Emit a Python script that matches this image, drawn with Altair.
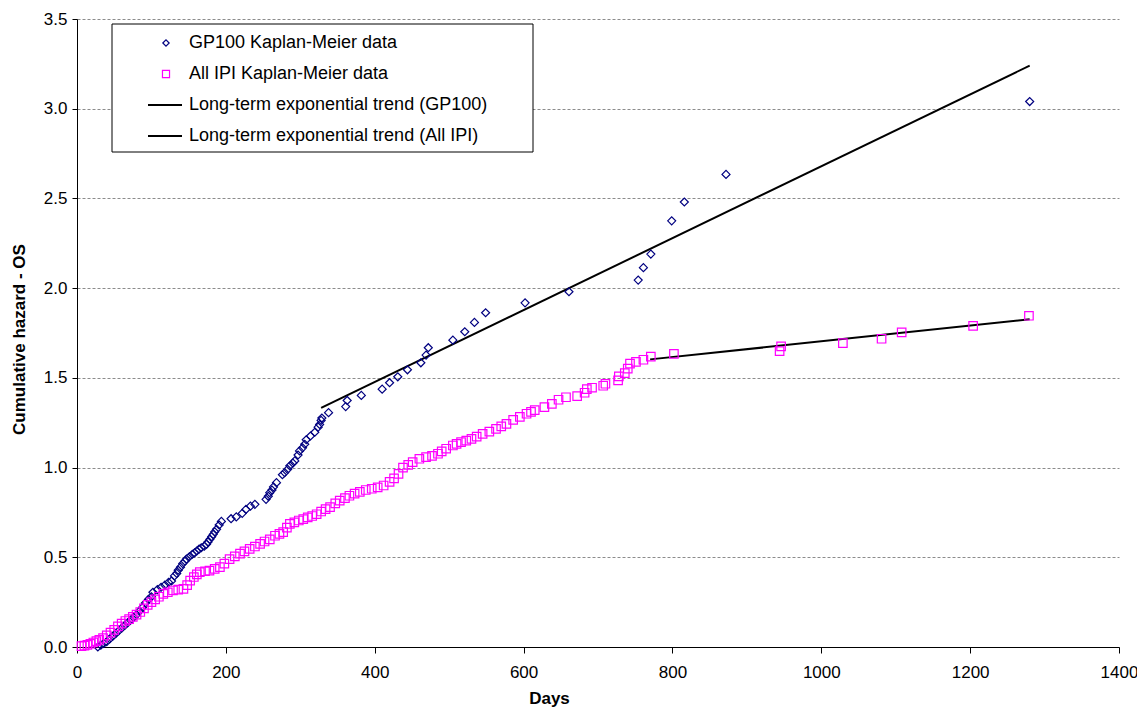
import altair as alt
import pandas as pd

# ---- GP100 Kaplan-Meier cumulative hazard (days, value)
gp_days = [28, 32, 36, 40, 44, 48, 52, 56, 60, 64, 68, 72, 76, 80, 84, 88, 92, 96, 100,
           102, 108, 113, 118, 123, 127, 131, 134, 136, 139, 142, 145, 147, 151, 155, 158,
           161, 164, 167, 171, 174, 176, 178.5, 181, 183, 185, 187.5, 191, 194, 207, 214,
           222, 227, 233, 239, 254, 257, 259, 262, 264, 268, 276, 279, 283, 286, 290, 292.6,
           297, 299, 303, 306, 308, 313.7, 319.5, 324, 326, 328, 329, 338, 361, 363, 382,
           410, 420, 431, 444, 462, 469, 472, 505, 521, 534, 549, 602, 661, 754, 761, 771,
           799, 816, 872, 1280]
gp_vals = [0.0, 0.01, 0.02, 0.03, 0.045, 0.06, 0.075, 0.09, 0.105, 0.12, 0.135, 0.15, 0.165,
           0.18, 0.2, 0.22, 0.245, 0.265, 0.28, 0.305, 0.32, 0.333, 0.345, 0.36, 0.368, 0.396,
           0.41, 0.428, 0.445, 0.465, 0.478, 0.49, 0.503, 0.517, 0.525, 0.535, 0.545, 0.553,
           0.562, 0.572, 0.585, 0.6, 0.615, 0.628, 0.642, 0.656, 0.68, 0.70, 0.715, 0.725,
           0.745, 0.767, 0.785, 0.795, 0.823, 0.84, 0.86, 0.875, 0.892, 0.916, 0.96, 0.972,
           0.99, 1.01, 1.025, 1.037, 1.07, 1.093, 1.11, 1.13, 1.155, 1.176, 1.197, 1.225,
           1.24, 1.263, 1.276, 1.306, 1.34, 1.374, 1.402, 1.437, 1.473, 1.506, 1.545, 1.584,
           1.627, 1.668, 1.71, 1.757, 1.809, 1.863, 1.918, 1.98, 2.045, 2.114, 2.19, 2.375,
           2.48, 2.634, 3.04]

# ---- All IPI Kaplan-Meier cumulative hazard (days, value)
ipi_days = [6, 10, 14, 18, 22, 26, 30, 35, 40, 45, 50, 55, 60, 65, 70, 75, 80, 85, 90, 95,
            100, 105, 110, 116, 122, 129, 136, 143, 148, 152, 157, 161, 165, 172, 178, 185,
            192, 198, 205, 212, 219, 225, 232, 239, 246, 252, 259, 266, 272, 277, 282, 286,
            292, 298, 304, 310, 316, 322, 328, 334, 340, 347, 353, 360, 366, 373, 380, 388,
            396, 404, 412, 420, 426, 432, 438, 445, 451, 460, 469, 477, 485, 490, 496, 505,
            510, 516, 523, 530, 537, 545, 554, 563, 570, 577, 586, 595, 604, 610, 615, 628,
            638, 647, 657, 672, 682, 685, 692, 707, 710, 727, 728, 736, 740, 743, 751, 761,
            771, 802, 944, 946, 1029, 1081, 1108, 1204, 1279]
ipi_vals = [0.005, 0.008, 0.012, 0.018, 0.025, 0.033, 0.04, 0.05, 0.065, 0.08, 0.095, 0.115,
            0.13, 0.145, 0.155, 0.168, 0.18, 0.195, 0.215, 0.235, 0.25, 0.265, 0.28, 0.296,
            0.305, 0.315, 0.32, 0.324, 0.345, 0.37, 0.39, 0.405, 0.417, 0.422, 0.426, 0.435,
            0.445, 0.465, 0.49, 0.505, 0.52, 0.533, 0.547, 0.56, 0.575, 0.588, 0.6, 0.62,
            0.63, 0.64, 0.665, 0.686, 0.695, 0.705, 0.713, 0.722, 0.73, 0.74, 0.755, 0.768,
            0.78, 0.8, 0.816, 0.83, 0.843, 0.855, 0.865, 0.875, 0.882, 0.89, 0.9, 0.92, 0.94,
            0.965, 1.0, 1.015, 1.03, 1.049, 1.058, 1.065, 1.077, 1.09, 1.105, 1.123, 1.132,
            1.142, 1.15, 1.16, 1.172, 1.188, 1.2, 1.216, 1.23, 1.244, 1.266, 1.283, 1.3, 1.31,
            1.32, 1.337, 1.355, 1.378, 1.392, 1.398, 1.417, 1.437, 1.445, 1.456, 1.467, 1.486,
            1.508, 1.526, 1.551, 1.579, 1.589, 1.601, 1.618, 1.634, 1.649, 1.675, 1.694,
            1.718, 1.753, 1.79, 1.846]

# ---- Long-term exponential trends (start/end points)
trend_gp_days = [328, 1280]
trend_gp_vals = [1.333, 3.24]
trend_ipi_days = [770, 1280]
trend_ipi_vals = [1.603, 1.826]

legend_labels = ["GP100 Kaplan-Meier data", "All IPI Kaplan-Meier data",
                 "Long-term exponential trend (GP100)", "Long-term exponential trend (All IPI)"]

NAVY = "#000080"
MAGENTA = "#FF00FF"
FONT = "Liberation Sans"

gp_df = pd.DataFrame({"days": gp_days, "val": gp_vals})
ipi_df = pd.DataFrame({"days": ipi_days, "val": ipi_vals})
trend_df = pd.DataFrame({
    "days": trend_gp_days + trend_ipi_days,
    "val": trend_gp_vals + trend_ipi_vals,
    "series": ["GP100"] * 2 + ["All IPI"] * 2,
})

W, H = 1042, 628

x_scale = alt.Scale(domain=[0, 1400], nice=False, zero=True)
y_scale = alt.Scale(domain=[0, 3.5], nice=False)

x_axis = alt.Axis(values=[0, 200, 400, 600, 800, 1000, 1200, 1400], format="d", grid=False,
                  title="Days", titleFontWeight="bold", titleFontSize=17, titleFont=FONT,
                  titleX=472, titleY=51, titleBaseline="middle",
                  labelFont=FONT, labelFontSize=17, labelColor="black", labelPadding=11,
                  tickSize=6, tickColor="black", domainColor="black", labelFlush=False)
y_axis = alt.Axis(values=[0, 0.5, 1, 1.5, 2, 2.5, 3, 3.5], format=".1f", grid=True,
                  gridDash=[3, 2], gridColor="#8c8c8c", gridWidth=1,
                  title="Cumulative hazard - OS", titleFontWeight="bold", titleFontSize=17,
                  titleFont=FONT, titleX=-58, titleY=320, titleBaseline="middle",
                  titleAngle=270,
                  labelFont=FONT, labelFontSize=17, labelColor="black", labelPadding=5,
                  tickSize=5, tickColor="black", domainColor="black", labelFlush=False)

gp_layer = alt.Chart(gp_df).mark_point(shape="diamond", filled=False, color=NAVY, size=64,
                                       strokeWidth=1.2, opacity=1).encode(
    x=alt.X("days:Q", scale=x_scale, axis=x_axis),
    y=alt.Y("val:Q", scale=y_scale, axis=y_axis),
)
ipi_layer = alt.Chart(ipi_df).mark_point(shape="square", filled=False, color=MAGENTA, size=72,
                                         strokeWidth=1.2, opacity=1).encode(
    x=alt.X("days:Q", scale=x_scale),
    y=alt.Y("val:Q", scale=y_scale),
)
trend_layer = alt.Chart(trend_df).mark_line(color="black", strokeWidth=2).encode(
    x=alt.X("days:Q", scale=x_scale),
    y=alt.Y("val:Q", scale=y_scale),
    detail="series:N",
)

# ---- manual legend (box, symbols, labels)
one = pd.DataFrame({"k": [0]})
row_y = [24, 55, 86, 117]
box = alt.Chart(one).mark_rect(fill="white", stroke="black", strokeWidth=1).encode(
    x=alt.value(35), x2=alt.value(456), y=alt.value(5), y2=alt.value(133))
leg_gp = alt.Chart(one).mark_point(shape="diamond", filled=False, color=NAVY, size=40,
                                   strokeWidth=1.2, opacity=1).encode(
    x=alt.value(89), y=alt.value(row_y[0]))
leg_ipi = alt.Chart(one).mark_point(shape="square", filled=False, color=MAGENTA, size=50,
                                    strokeWidth=1.2, opacity=1).encode(
    x=alt.value(89), y=alt.value(row_y[1]))
leg_l1 = alt.Chart(one).mark_rule(color="black", strokeWidth=2).encode(
    x=alt.value(71), x2=alt.value(105), y=alt.value(row_y[2]))
leg_l2 = alt.Chart(one).mark_rule(color="black", strokeWidth=2).encode(
    x=alt.value(71), x2=alt.value(105), y=alt.value(row_y[3]))
leg_texts = [
    alt.Chart(one).mark_text(align="left", baseline="middle", font=FONT, fontSize=18,
                             color="black").encode(
        x=alt.value(112), y=alt.value(row_y[i]), text=alt.value(legend_labels[i]))
    for i in range(4)
]

chart = alt.layer(trend_layer, gp_layer, ipi_layer, box, leg_gp, leg_ipi, leg_l1, leg_l2,
                  *leg_texts).properties(
    width=W, height=H,
    autosize=alt.AutoSizeParams(type="none"),
    padding={"left": 69, "top": 11, "right": 18, "bottom": 60},
    background="white",
).configure_view(strokeWidth=0)

chart.save("out.html", embed_options={"renderer": "svg", "actions": False})
